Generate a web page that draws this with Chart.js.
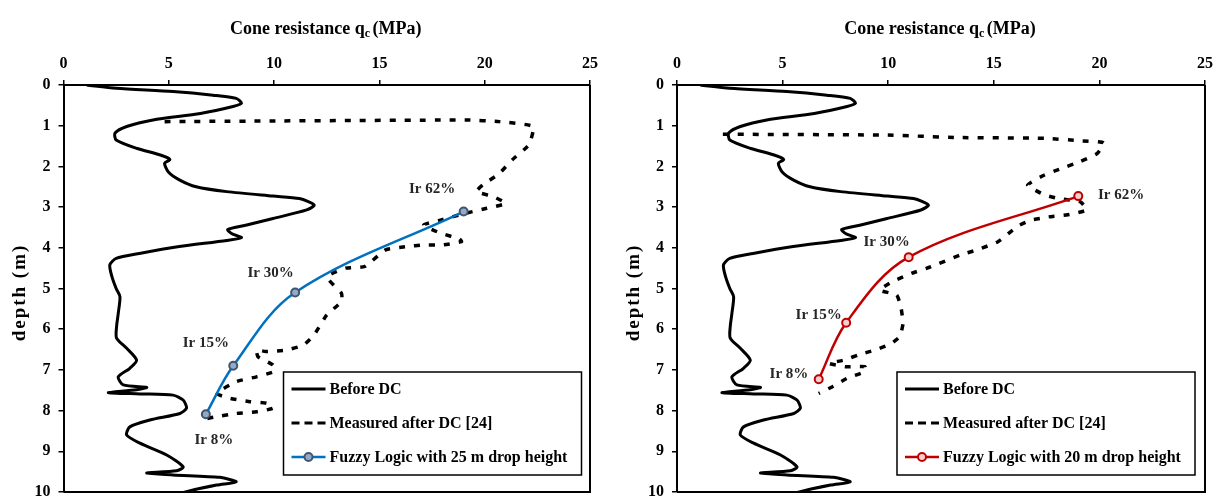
<!DOCTYPE html>
<html>
<head>
<meta charset="utf-8">
<title>Cone resistance before and after DC</title>
<script src="https://cdn.jsdelivr.net/npm/chart.js@4.4.1/dist/chart.umd.min.js"></script>
<style>
  html, body { margin: 0; padding: 0; background: #fff; overflow: hidden; width: 1220px; height: 497px; }
  canvas { position: absolute; top: 0; }
  #left { left: 0; }
  #right { left: 614px; }
</style>
</head>
<body>
<canvas id="left" width="610" height="520"></canvas>
<canvas id="right" width="606" height="520"></canvas>
<script>
// CPT profiles: cone resistance qc (MPa) vs depth (m)

var xTicks = [0, 5, 10, 15, 20, 25];
var yTicks = [0, 1, 2, 3, 4, 5, 6, 7, 8, 9, 10];

// Before DC (same profile in both panels)
var beforeQc = [1.1, 2.5, 5.2, 7.1, 8.2, 8.45, 8.05, 6.5, 4.25, 3.0, 2.45, 2.5, 3.5, 4.6, 5.05, 4.8, 4.97, 5.5, 6.3, 7.75,
  9.95, 11.2, 11.9, 11.55, 9.95, 8.7, 7.8, 7.98, 8.45, 7.75, 5.5, 3.6, 2.5, 2.2, 2.3, 2.5, 2.68, 2.6, 2.52, 2.52,
  3.0, 3.47, 3.15, 2.6, 2.84, 3.95, 3.47, 2.13, 3.63, 5.2, 5.68, 5.84, 5.53, 4.1, 3.15, 3.0, 3.63, 4.9, 5.68, 5.37,
  3.95, 5.2, 7.42, 8.2, 7.27, 5.84, 5.0];
var beforeDepth = [0, 0.08, 0.16, 0.25, 0.33, 0.45, 0.53, 0.7, 0.86, 1.02, 1.18, 1.35, 1.56, 1.72, 1.83, 1.92, 2.13, 2.33, 2.5, 2.62,
  2.73, 2.79, 2.95, 3.07, 3.28, 3.44, 3.55, 3.65, 3.75, 3.82, 3.97, 4.14, 4.26, 4.42, 4.71, 5.0, 5.2, 5.61, 5.94, 6.22,
  6.47, 6.76, 6.96, 7.17, 7.37, 7.43, 7.49, 7.56, 7.59, 7.62, 7.74, 7.94, 8.07, 8.23, 8.4, 8.6, 8.8, 9.09, 9.38, 9.48,
  9.53, 9.58, 9.64, 9.75, 9.83, 9.99, 10.1];

// Measured after DC [24] - left panel
var measLQc = [4.8, 19.1, 20.7, 22.3, 22.1, 21.3, 20.7, 19.9, 19.6, 20.4, 21.0, 20.1, 19.1, 17.9, 17.1, 17.9, 18.8, 18.9,
  18.0, 17.07, 16.3, 15.3, 14.3, 13.4, 12.6, 12.6, 13.2, 13.2, 12.5, 11.9, 11.4, 10.6, 9.6, 9.16, 9.24, 9.95, 10.0,
  9.16, 8.2, 7.27, 7.9, 8.85, 9.64, 9.95, 9.16, 8.2, 7.27, 6.47];
var measLDepth = [0.9, 0.86, 0.9, 1.02, 1.47, 1.84, 2.17, 2.46, 2.62, 2.74, 2.91, 3.03, 3.15, 3.32, 3.44, 3.64, 3.78, 3.85,
  3.93, 3.93, 3.97, 4.05, 4.46, 4.5, 4.67, 4.79, 5.12, 5.32, 5.65, 6.14, 6.39, 6.51, 6.55, 6.51, 6.68, 6.88, 7.04,
  7.17, 7.29, 7.58, 7.7, 7.78, 7.82, 7.94, 8.03, 8.07, 8.15, 8.23];

// Measured after DC [24] - right panel
var measRQc = [2.17, 9.84, 13.3, 17.4, 19.1, 20.2, 19.9, 19.1, 18.1, 17.4, 16.6, 17.4, 18.06, 19.1, 19.4, 18.5, 17.6, 16.7,
  16.1, 15.2, 14.2, 13.4, 12.0, 11.1, 10.2, 9.6, 10.4, 10.6, 10.7, 10.55, 10.15, 9.38, 8.6, 7.9, 7.2, 7.97, 8.9, 8.9,
  8.04, 7.4, 6.71];
var measRDepth = [1.21, 1.23, 1.29, 1.31, 1.37, 1.42, 1.68, 1.88, 2.07, 2.21, 2.46, 2.7, 2.79, 2.87, 3.07, 3.19, 3.24, 3.33,
  3.48, 3.85, 4.05, 4.18, 4.47, 4.63, 4.83, 5.04, 5.16, 5.45, 5.86, 6.18, 6.35, 6.51, 6.63, 6.76, 6.84, 6.92, 6.92, 7.04,
  7.21, 7.4, 7.58];

// Fuzzy logic predictions
var fuzzyLQc = [19.0, 11.0, 8.06, 6.76];
var fuzzyLDepth = [3.11, 5.1, 6.9, 8.09];
var fuzzyRQc = [19.0, 10.97, 8.01, 6.71];
var fuzzyRDepth = [2.73, 4.23, 5.84, 7.23];

// Ir labels (text centre, in data units)
var irText = ['Ir 62%', 'Ir 30%', 'Ir 15%', 'Ir 8%'];
var irLQc = [17.5, 9.83, 6.76, 7.14];
var irLDepth = [2.56, 4.63, 6.33, 8.72];
var irRQc = [21.03, 9.92, 6.71, 5.3];
var irRDepth = [2.7, 3.87, 5.65, 7.1];

var legendText = ['Before DC', 'Measured after DC [24]'];

var SERIF = '"Liberation Serif", "Times New Roman", serif';

function pts(xs, ys) {
  return xs.map(function (x, i) { return { x: x, y: ys[i] }; });
}

var extras = {
  id: 'extras',
  afterDraw: function (chart) {
    var o = chart.options.plugins.extras;
    var ctx = chart.ctx, a = chart.chartArea;
    var sx = chart.scales.x, sy = chart.scales.y;
    ctx.save();

    // frame (right + bottom)
    ctx.strokeStyle = '#000';
    ctx.lineWidth = 2;
    ctx.beginPath();
    ctx.moveTo(a.right, a.top);
    ctx.lineTo(a.right, a.bottom);
    ctx.lineTo(a.left, a.bottom);
    ctx.stroke();

    // x title with subscript
    ctx.fillStyle = '#000';
    ctx.textBaseline = 'alphabetic';
    ctx.textAlign = 'left';
    var big = 'bold 18px ' + SERIF, small = 'bold 12px ' + SERIF;
    var p1 = 'Cone resistance q', p2 = 'c', p3 = ' (MPa)';
    ctx.font = big;
    var w1 = ctx.measureText(p1).width, w3 = ctx.measureText(p3).width;
    ctx.font = small;
    var w2 = ctx.measureText(p2).width;
    var tx = (a.left + a.right) / 2 - (w1 + w2 + w3) / 2, ty = 34;
    ctx.font = big; ctx.fillText(p1, tx, ty);
    ctx.font = small; ctx.fillText(p2, tx + w1, ty + 3);
    ctx.font = big; ctx.fillText(p3, tx + w1 + w2 - 2, ty);

    // y title
    ctx.save();
    ctx.translate(20, (a.top + a.bottom) / 2 + 4);
    ctx.rotate(-Math.PI / 2);
    ctx.textAlign = 'center';
    ctx.textBaseline = 'middle';
    ctx.font = 'bold 19px ' + SERIF;
    ctx.letterSpacing = '2px';
    ctx.fillText('depth (m)', 0, 0);
    ctx.letterSpacing = '0px';
    ctx.restore();

    // Ir labels
    ctx.font = 'bold 15px ' + SERIF;
    ctx.fillStyle = '#262626';
    ctx.textAlign = 'center';
    ctx.textBaseline = 'middle';
    o.labels.forEach(function (t, i) {
      ctx.fillText(t, sx.getPixelForValue(o.lx[i]), sy.getPixelForValue(o.ly[i]));
    });

    // legend box
    var lx = a.left + 220, ly = 372, lw = 298, lh = 103;
    ctx.fillStyle = '#fff';
    ctx.fillRect(lx, ly, lw, lh);
    ctx.strokeStyle = '#000';
    ctx.lineWidth = 1.5;
    ctx.strokeRect(lx, ly, lw, lh);
    var rows = [ly + 17, ly + 51, ly + 85];
    var names = [legendText[0], legendText[1], o.fuzzyName];
    ctx.lineWidth = 3;
    // before
    ctx.strokeStyle = '#000';
    ctx.beginPath(); ctx.moveTo(lx + 8, rows[0]); ctx.lineTo(lx + 42, rows[0]); ctx.stroke();
    // measured
    ctx.setLineDash([8, 5]);
    ctx.beginPath(); ctx.moveTo(lx + 8, rows[1]); ctx.lineTo(lx + 42, rows[1]); ctx.stroke();
    ctx.setLineDash([]);
    // fuzzy
    ctx.strokeStyle = o.color;
    ctx.lineWidth = 2.5;
    ctx.beginPath(); ctx.moveTo(lx + 8, rows[2]); ctx.lineTo(lx + 42, rows[2]); ctx.stroke();
    ctx.beginPath();
    ctx.arc(lx + 25, rows[2], 4, 0, Math.PI * 2);
    ctx.fillStyle = o.markFill; ctx.fill();
    ctx.lineWidth = 2; ctx.strokeStyle = o.markEdge; ctx.stroke();

    ctx.fillStyle = '#000';
    ctx.font = 'bold 16px ' + SERIF;
    ctx.textAlign = 'left';
    ctx.textBaseline = 'middle';
    names.forEach(function (n, i) { ctx.fillText(n, lx + 46, rows[i] + 1); });

    ctx.restore();
  }
};

function makeChart(id, cfg) {
  return new Chart(document.getElementById(id), {
    type: 'scatter',
    data: {
      datasets: [
        { label: legendText[0], data: pts(beforeQc, beforeDepth), showLine: true, borderColor: '#000',
          borderWidth: 3, pointRadius: 0, tension: 0.25, order: 3 },
        { label: legendText[1], data: pts(cfg.measQc, cfg.measDepth), showLine: true, borderColor: '#000',
          borderWidth: 3.5, borderDash: [6, 9], pointRadius: 0, tension: 0.15, order: 2 },
        { label: cfg.fuzzyName, data: pts(cfg.fuzzyQc, cfg.fuzzyDepth), showLine: true, borderColor: cfg.color,
          borderWidth: 2.5, pointRadius: 4, pointBorderWidth: 2, pointBorderColor: cfg.markEdge,
          pointBackgroundColor: cfg.markFill, tension: 0.35, order: 1 }
      ]
    },
    options: {
      responsive: false,
      animation: false,
      devicePixelRatio: 1,
      layout: { padding: { left: 0, top: 0, right: cfg.padRight, bottom: 28 } },
      plugins: {
        legend: { display: false },
        tooltip: { enabled: false },
        extras: { labels: irText, lx: cfg.lx, ly: cfg.ly, fuzzyName: cfg.fuzzyName, color: cfg.color,
          markEdge: cfg.markEdge, markFill: cfg.markFill }
      },
      scales: {
        x: {
          type: 'linear', position: 'top', min: 0, max: 25,
          afterBuildTicks: function (s) { s.ticks = xTicks.map(function (v) { return { value: v }; }); },
          afterFit: function (s) { s.height = 85; },
          ticks: { color: '#000', padding: 7, font: { family: SERIF, size: 16, weight: 'bold' }, maxRotation: 0 },
          grid: { drawOnChartArea: false, drawTicks: true, tickLength: 5, color: '#000', lineWidth: 1.5 },
          border: { display: true, color: '#000', width: 2 }
        },
        y: {
          type: 'linear', position: 'left', reverse: true, min: 0, max: 10,
          afterBuildTicks: function (s) { s.ticks = yTicks.map(function (v) { return { value: v }; }); },
          afterFit: function (s) { s.width = cfg.axisLeft; },
          ticks: { color: '#000', padding: 8, font: { family: SERIF, size: 16, weight: 'bold' } },
          grid: { drawOnChartArea: false, drawTicks: true, tickLength: 5, color: '#000', lineWidth: 1.5 },
          border: { display: true, color: '#000', width: 2 }
        }
      }
    },
    plugins: [extras]
  });
}

makeChart('left', {
  measQc: measLQc, measDepth: measLDepth, fuzzyQc: fuzzyLQc, fuzzyDepth: fuzzyLDepth,
  fuzzyName: 'Fuzzy Logic with 25 m drop height', color: '#0070C0', markEdge: '#44546A', markFill: '#8FAACC',
  lx: irLQc, ly: irLDepth, axisLeft: 63.5, padRight: 20
});

makeChart('right', {
  measQc: measRQc, measDepth: measRDepth, fuzzyQc: fuzzyRQc, fuzzyDepth: fuzzyRDepth,
  fuzzyName: 'Fuzzy Logic with 20 m drop height', color: '#C00000', markEdge: '#C00000', markFill: '#F4D0D0',
  lx: irRQc, ly: irRDepth, axisLeft: 63, padRight: 10.5
});
</script>
</body>
</html>
